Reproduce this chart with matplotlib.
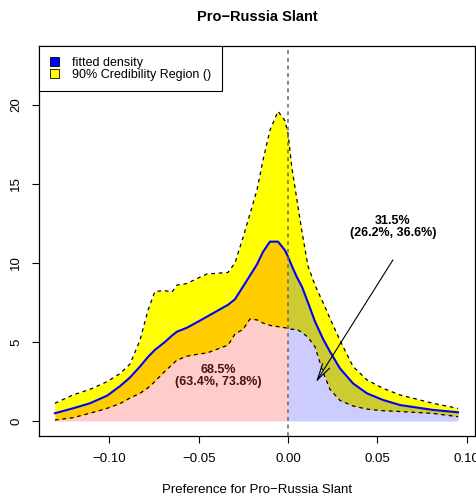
import numpy as np
import matplotlib
matplotlib.use('Agg')
from matplotlib import pyplot as plt
from matplotlib.patches import Patch

plt.rcParams['font.family'] = ['Liberation Sans', 'DejaVu Sans']

# slant grid (x) and the three curves
slant = [-0.1305, -0.1204, -0.1109, -0.1013, -0.0941, -0.0885, -0.0829, -0.0784,
         -0.0745, -0.0689, -0.0650, -0.0622, -0.0566, -0.0493, -0.0454, -0.0336,
         -0.0297, -0.0252, -0.0213, -0.0174, -0.0140, -0.0101, -0.0056, -0.0017,
         0.0000, 0.0022, 0.0050, 0.0078, 0.0112, 0.0151, 0.0196, 0.0235, 0.0291,
         0.0364, 0.0442, 0.0532, 0.0627, 0.0812, 0.0952]
upper = [1.12, 1.65, 2.0, 2.49, 3.0, 3.6, 5.1, 7.0, 8.2, 8.25, 8.15, 8.6, 8.7,
         9.1, 9.3, 9.4, 10.0, 11.6, 13.1, 14.6, 16.5, 18.4, 19.6, 19.0, 18.2,
         16.0, 14.0, 12.0, 9.8, 8.6, 7.5, 6.5, 5.1, 3.45, 2.6, 2.07, 1.65, 1.12, 0.8]
fitted = [0.49, 0.80, 1.12, 1.60, 2.2, 2.75, 3.44, 4.05, 4.5, 5.0, 5.4, 5.65,
          5.9, 6.35, 6.6, 7.35, 7.7, 8.5, 9.2, 9.9, 10.7, 11.35, 11.35, 10.8,
          10.4, 9.8, 9.1, 8.5, 7.5, 6.3, 5.2, 4.39, 3.33, 2.38, 1.75, 1.33,
          1.01, 0.70, 0.55]
lower = [0.06, 0.21, 0.49, 0.80, 1.1, 1.45, 1.75, 2.1, 2.5, 3.15, 3.55, 3.85,
         4.1, 4.25, 4.3, 4.8, 5.5, 5.8, 6.45, 6.4, 6.2, 6.05, 5.97, 5.9, 5.87,
         5.8, 5.8, 5.6, 5.3, 4.7, 3.1, 2.0, 1.3, 0.95, 0.75, 0.65, 0.6, 0.48, 0.27]

left_share = '68.5%\n(63.4%, 73.8%)'
right_share = '31.5%\n(26.2%, 36.6%)'

x = np.array(slant)
up = np.array(upper)
fit = np.array(fitted)
lo = np.array(lower)

fig = plt.figure(figsize=(4.77, 4.99), dpi=100)
ax = fig.add_axes([39/477, 1-436/499, 436/477, 390/499])

ax.fill_between(x, lo, up, color='yellow', lw=0)
ax.fill_between(x, 0, fit, where=x <= 0, color=(1, 0, 0, 0.2), lw=0)
ax.fill_between(x, 0, fit, where=x >= 0, color=(0, 0, 1, 0.2), lw=0)

ax.plot(x, up, color='black', lw=0.9, ls=(0, (3, 3)))
ax.plot(x, lo, color='black', lw=0.9, ls=(0, (3, 3)))
ax.plot(x, fit, color='blue', lw=1.5)

ax.axvline(0, color='#666666', lw=1.1, ls=(0, (2.5, 2.5)))

ax.text(-0.0392, 2.85, left_share, ha='center', va='center', fontsize=9,
        fontweight='bold', color='#4a1010', linespacing=1.0)
ax.text(0.0588, 12.25, right_share, ha='center', va='center', fontsize=9,
        fontweight='bold', color='black', linespacing=1.0)
ax.annotate('', xy=(0.0157, 2.47), xytext=(0.0588, 10.2),
            arrowprops=dict(arrowstyle='->,head_length=1.2,head_width=0.3',
                            color='black', lw=0.8, mutation_scale=10,
                            shrinkA=0, shrinkB=0))

ax.set_xlim(-0.1394, 0.1047)
ax.set_ylim(-0.95, 23.73)
ax.set_xticks([-0.10, -0.05, 0.00, 0.05, 0.10])
ax.set_xticklabels(['\u22120.10', '\u22120.05', '0.00', '0.05', '0.10'])
ax.set_yticks([0, 5, 10, 15, 20])
ax.set_yticklabels(['0', '5', '10', '15', '20'], rotation=90, va='center')
ax.tick_params(direction='out', length=5, width=0.8, labelsize=9.5, pad=7)
for s in ax.spines.values():
    s.set_linewidth(0.9)

handles = [Patch(facecolor='blue', edgecolor='black', lw=0.6),
           Patch(facecolor='yellow', edgecolor='black', lw=0.6)]
leg = ax.legend(handles, ['fitted density', '90% Credibility Region ()'],
                loc='upper left', borderaxespad=0, fancybox=False,
                edgecolor='black', framealpha=1, fontsize=9,
                handlelength=0.75, handleheight=0.75, handletextpad=1.05,
                borderpad=0.85, labelspacing=0.0)
leg.get_frame().set_linewidth(0.8)

fig.text(257/477, 1-17/499, 'Pro\u2212Russia Slant', ha='center', va='center',
         fontsize=10.5, fontweight='bold')
fig.text(257/477, 1-490/499, 'Preference for Pro\u2212Russia Slant',
         ha='center', va='center', fontsize=9.5)

fig.savefig('out.png', dpi=100)
